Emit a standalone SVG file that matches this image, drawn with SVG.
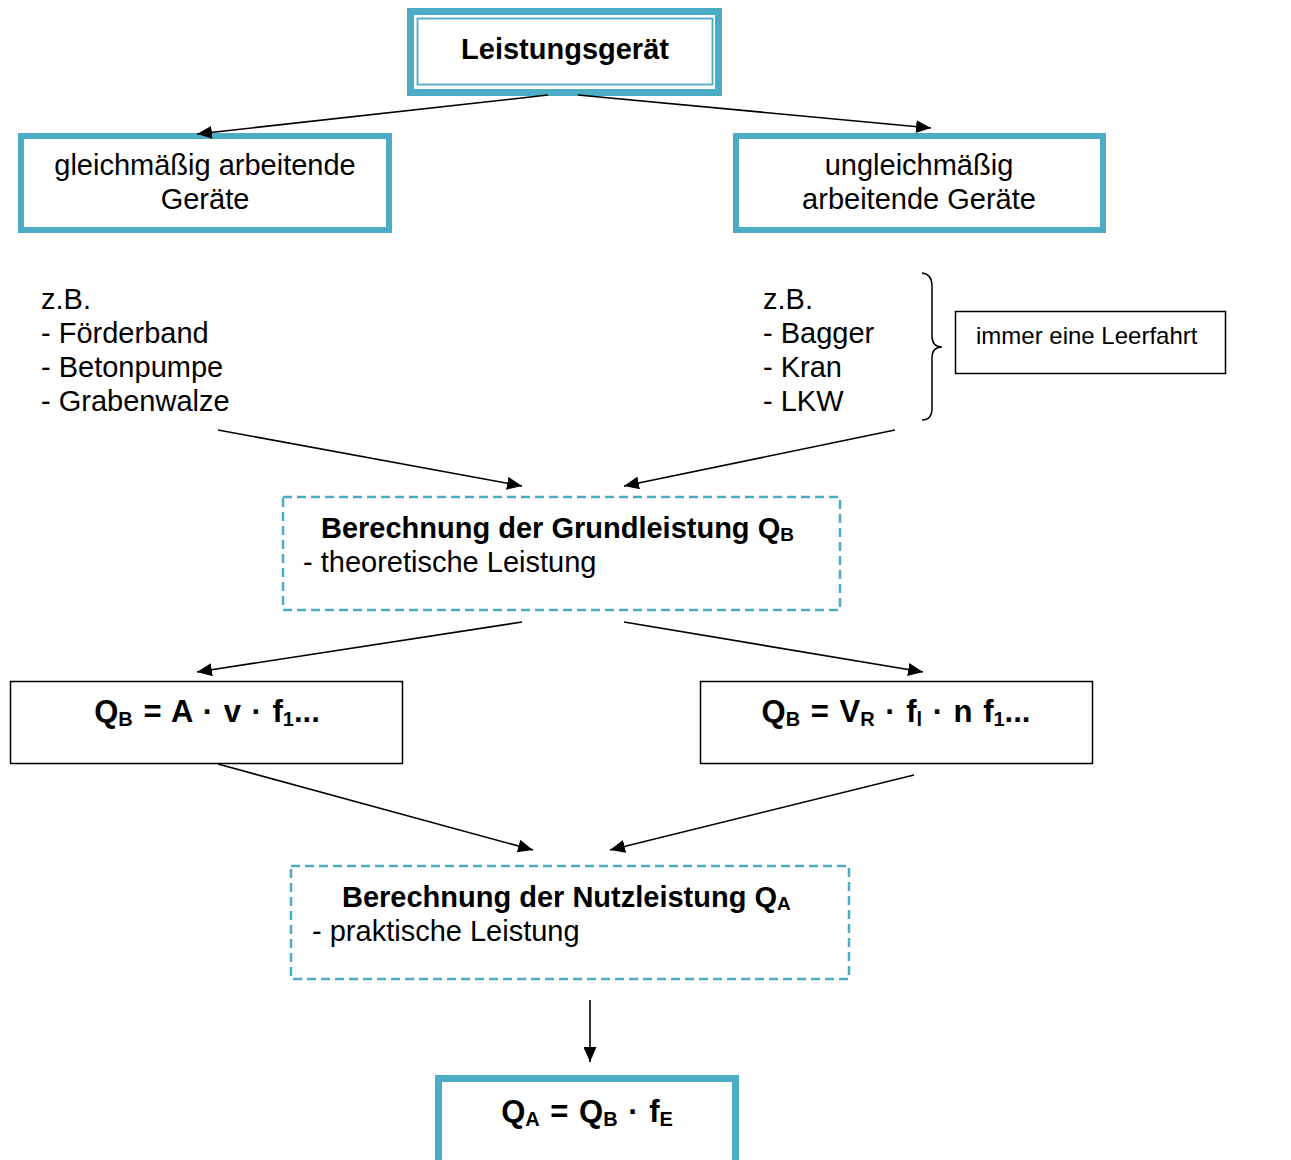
<svg xmlns="http://www.w3.org/2000/svg" width="1291" height="1160" viewBox="0 0 1291 1160">
<style>
  text { font-family: "Liberation Sans", Arial, sans-serif; fill: #000; }
  .t { font-size: 29px; }
  .b { font-size: 29px; font-weight: bold; }
  .f { font-size: 31px; font-weight: bold; word-spacing: 2px; }
  .s { font-size: 24px; }
  .sub { font-size: 19px; }
  .fsub { font-size: 20px; }
  .teal { fill: #fff; stroke: #4BACC6; stroke-width: 6; }
  .dash { fill: #fff; stroke: #4BACC6; stroke-width: 2.5; stroke-dasharray: 9 5; }
  .plain { fill: #fff; stroke: #000; stroke-width: 1.5; }
  .conn line { stroke: #000; stroke-width: 1.6; marker-end: url(#ah); }
</style>
<defs>
  <marker id="ah" markerUnits="userSpaceOnUse" markerWidth="16" markerHeight="13" refX="15" refY="6.5" orient="auto">
    <path d="M0,0 L15,6.5 L0,13 z" fill="#000"/>
  </marker>
</defs>
<rect width="1291" height="1160" fill="#fff"/>

<g id="n-leistungsgeraet">
  <rect x="410.5" y="11.5" width="308" height="81" fill="#fff" stroke="#4BACC6" stroke-width="7"/>
  <rect x="417.5" y="18.5" width="295" height="66" fill="none" stroke="#4BACC6" stroke-width="1.8"/>
  <text class="b" x="565" y="59" text-anchor="middle">Leistungsgerät</text>
</g>

<g id="n-gleich">
  <rect class="teal" x="21" y="136" width="368" height="94"/>
  <text class="t" x="205" y="175" text-anchor="middle">gleichmäßig arbeitende</text>
  <text class="t" x="205" y="209" text-anchor="middle">Geräte</text>
</g>

<g id="n-ungleich">
  <rect class="teal" x="736" y="136" width="367" height="94"/>
  <text class="t" x="919" y="175" text-anchor="middle">ungleichmäßig</text>
  <text class="t" x="919" y="209" text-anchor="middle">arbeitende Geräte</text>
</g>

<g id="n-liste-links">
  <text class="t" x="41" y="309">z.B.</text>
  <text class="t" x="41" y="343">- Förderband</text>
  <text class="t" x="41" y="377">- Betonpumpe</text>
  <text class="t" x="41" y="411">- Grabenwalze</text>
</g>

<g id="n-liste-rechts">
  <text class="t" x="763" y="309">z.B.</text>
  <text class="t" x="763" y="343">- Bagger</text>
  <text class="t" x="763" y="377">- Kran</text>
  <text class="t" x="763" y="411">- LKW</text>
  <path d="M922,273 Q932,274 932,286 L932,336 Q932,347 942,347 Q932,347 932,358 L932,408 Q932,420 922,420" fill="none" stroke="#000" stroke-width="1.5"/>
</g>

<g id="n-leerfahrt">
  <rect class="plain" x="955.5" y="311.5" width="270" height="62"/>
  <text class="s" x="976" y="344">immer eine Leerfahrt</text>
</g>

<g id="n-grundleistung">
  <rect class="dash" x="283" y="497" width="557" height="113"/>
  <text class="b" x="321" y="538">Berechnung der Grundleistung Q<tspan class="sub" dy="3">B</tspan></text>
  <text class="t" x="303" y="572">- theoretische Leistung</text>
</g>

<g id="n-formel-links">
  <rect class="plain" x="10.5" y="681.5" width="392" height="82"/>
  <text class="f" x="207" y="722" text-anchor="middle">Q<tspan class="fsub" dy="4">B</tspan><tspan dy="-4"> = A · v · f</tspan><tspan class="fsub" dy="4">1</tspan><tspan dy="-4">...</tspan></text>
</g>

<g id="n-formel-rechts">
  <rect class="plain" x="700.5" y="681.5" width="392" height="82"/>
  <text class="f" x="896" y="722" text-anchor="middle">Q<tspan class="fsub" dy="4">B</tspan><tspan dy="-4"> = V</tspan><tspan class="fsub" dy="4">R</tspan><tspan dy="-4"> · f</tspan><tspan class="fsub" dy="4">l</tspan><tspan dy="-4"> · n f</tspan><tspan class="fsub" dy="4">1</tspan><tspan dy="-4">...</tspan></text>
</g>

<g id="n-nutzleistung">
  <rect class="dash" x="291" y="866" width="558" height="113"/>
  <text class="b" x="342" y="907">Berechnung der Nutzleistung Q<tspan class="sub" dy="3">A</tspan></text>
  <text class="t" x="312" y="941">- praktische Leistung</text>
</g>

<g id="n-ergebnis">
  <rect x="438.5" y="1078.5" width="297" height="90" fill="#fff" stroke="#4BACC6" stroke-width="7"/>
  <text class="f" x="587" y="1122" text-anchor="middle">Q<tspan class="fsub" dy="4">A</tspan><tspan dy="-4"> = Q</tspan><tspan class="fsub" dy="4">B</tspan><tspan dy="-4"> · f</tspan><tspan class="fsub" dy="4">E</tspan></text>
</g>

<g id="connectors" class="conn">
  <line x1="548" y1="95" x2="197" y2="134"/>
  <line x1="578" y1="95" x2="931" y2="128"/>
  <line x1="218" y1="430" x2="522" y2="486"/>
  <line x1="895" y1="430" x2="624" y2="486"/>
  <line x1="522" y1="622" x2="197" y2="672"/>
  <line x1="624" y1="622" x2="923" y2="672"/>
  <line x1="218" y1="764" x2="533" y2="850"/>
  <line x1="914" y1="775" x2="610" y2="850"/>
  <line x1="590" y1="1000" x2="590" y2="1062"/>
</g>
</svg>
